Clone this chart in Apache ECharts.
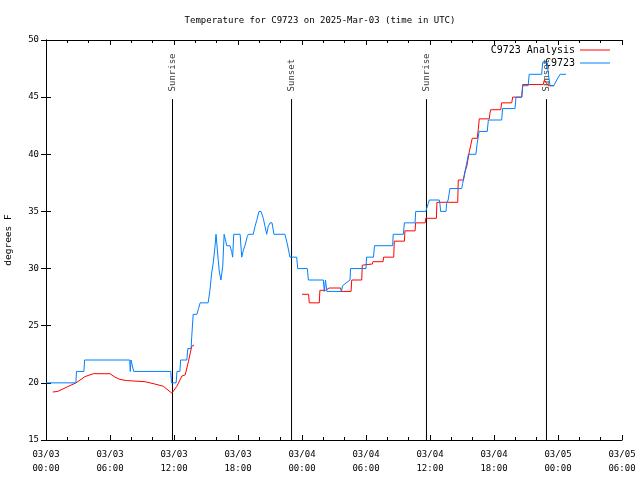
<!DOCTYPE html>
<html>
<head>
<meta charset="utf-8">
<script src="https://cdn.jsdelivr.net/npm/echarts@6/dist/echarts.min.js"></script>
<style>html,body{margin:0;padding:0;background:#fff}#c{width:640px;height:480px}</style>
</head>
<body>
<div id="c"></div>
<script>
// ---- data (hours since 2025-03-03 00:00 UTC, temperature in F) ----
const xTickLabels = ['03/03\n00:00','03/03\n06:00','03/03\n12:00','03/03\n18:00','03/04\n00:00','03/04\n06:00','03/04\n12:00','03/04\n18:00','03/05\n00:00','03/05\n06:00'];

const analysisHours = [0.63,1.1,2.0,2.81,3.66,4.43,6.0,6.47,6.94,7.57,9.28,10.2,11.0,11.8,12.27,12.74,13.05,13.35,13.66,13.87,
  18.9,
  24.0,24.62,24.68,25.62,25.68,26.2,26.55,27.62,27.68,28.6,28.66,29.6,29.65,30.6,30.65,31.6,31.65,32.6,32.65,33.6,33.65,34.6,34.65,35.55,35.6,36.6,36.65,38.6,38.65,39.12,39.19,39.28,39.44,39.68,39.96,40.43,40.53,40.62,41.56,41.62,41.69,42.63,42.72,43.66,43.75,44.6,44.69,46.62,46.72,46.9,47.09,47.63];
const analysisTemps = [19.2,19.25,19.65,20.0,20.55,20.8,20.8,20.5,20.3,20.2,20.1,19.9,19.7,19.1,19.7,20.6,20.7,21.85,23.2,23.3,
  null,
  27.75,27.75,27.0,27.0,28.1,28.1,28.3,28.3,28.0,28.0,29.0,29.0,30.3,30.4,30.6,30.6,31.0,31.0,32.4,32.4,33.3,33.3,34.0,34.0,34.4,34.4,35.8,35.8,37.75,37.75,38.1,38.5,38.9,40.2,41.4,41.4,42.2,43.1,43.1,43.6,43.9,43.9,44.5,44.5,45.0,45.0,46.1,46.1,46.5,46.5,46.0,46.0];

const obsHours = [0,2.8,2.86,3.55,3.62,7.85,7.9,7.97,8.15,8.22,11.7,11.76,12.2,12.28,12.55,12.62,13.2,13.3,13.6,13.66,13.75,13.8,14.15,14.3,14.45,15.2,15.37,15.53,15.68,15.84,15.94,16.15,16.25,16.4,16.57,16.7,16.85,16.94,17.25,17.4,17.5,17.6,18.2,18.35,18.5,18.65,18.87,18.97,19.43,19.6,19.75,19.97,20.16,20.37,20.53,20.69,20.84,21.0,21.19,21.37,22.4,22.56,22.7,22.87,23.5,23.6,24.5,24.6,26.0,26.09,26.15,26.2,26.28,26.33,27.7,27.8,28.5,28.55,30.0,30.05,30.7,30.8,32.5,32.55,33.5,33.6,34.6,34.66,35.6,35.84,35.93,36.87,36.94,37.0,37.5,37.56,37.7,37.87,38.97,39.06,39.2,39.37,39.5,39.6,40.3,40.43,40.6,41.37,41.47,42.72,42.8,43.97,44.06,44.6,44.7,45.2,45.3,46.47,46.56,47.0,47.1,47.25,47.6,47.88,48.2,48.75];
const obsTemps = [20,20,21,21,22,22,21,22,22,21,21,20,20,21,21,22,22,23,23,24,24,26,26,26.5,27,27,28.1,29.6,30.5,31.9,33,30.7,29.7,29,30.2,33,32.4,32,32,31.5,31,33,33,31,31.6,32,32.8,33,33,33.7,34.2,35,35,34.4,33.7,33,33.7,34,34,33,33,32.4,31.8,31,31,30,30,29,29,28,28,29,29,28,28,28.5,29,30,30,31,31,32,32,33,33,34,34,35,35,35.7,36,36,35.6,35,35,35.7,36,37,37,37.45,38,38.9,39.5,40,40,41,42,42,43,43,44,44,45,45,46,46,47,47,48,48,47,46,46,46.5,47,47];

const sunHours = [11.86, 23.02, 35.67, 46.92];
const sunLabels = ['Sunrise', 'Sunset', 'Sunrise', 'Sunset'];
const sunLineTop = 44.83;
const sunLabelBase = 45.5;

// ---- chart ----
const FONT = 'DejaVu Sans Mono';
const pair = (hs, ts) => hs.map((h, i) => [h, ts[i] === null ? '-' : ts[i]]);

const sunLineSeries = sunHours.map(h => ({
  type: 'line', data: [[h, 15], [h, sunLineTop]], symbol: 'none', silent: true,
  lineStyle: { color: '#000', width: 1 }, z: 1
}));

const axisCommon = {
  type: 'value', min: 0, max: 54, interval: 6,
  axisLine: { lineStyle: { color: '#000', width: 1 } },
  axisTick: { inside: true, length: 5, lineStyle: { color: '#000' } },
  minorTick: { show: true, splitNumber: 3, length: 3, lineStyle: { color: '#000' } },
  splitLine: { show: false }
};
const yCommon = {
  type: 'value', min: 15, max: 50, interval: 5,
  axisLine: { show: true, lineStyle: { color: '#000', width: 1 } },
  axisTick: { show: true, inside: true, length: 5, lineStyle: { color: '#000' } },
  splitLine: { show: false }
};

const chart = echarts.init(document.getElementById('c'), null, { renderer: 'canvas' });
chart.setOption({
  animation: false,
  backgroundColor: '#fff',
  title: {
    text: 'Temperature for C9723 on 2025-Mar-03 (time in UTC)',
    left: 'center', top: 11,
    textStyle: { fontFamily: FONT, fontSize: 9, fontWeight: 'normal', color: '#000' }
  },
  legend: {
    data: ['C9723 Analysis', 'C9723'],
    orient: 'vertical', right: 30, top: 45, align: 'right', padding: 0,
    icon: 'rect', itemWidth: 30, itemHeight: 1, itemGap: 3,
    textStyle: { fontFamily: FONT, fontSize: 10, color: '#000' }
  },
  grid: { left: 46, right: 18, top: 40, bottom: 40, containLabel: false, outerBoundsMode: 'none' },
  xAxis: [
    Object.assign({}, axisCommon, {
      position: 'bottom',
      axisLabel: {
        margin: 8, fontFamily: FONT, fontSize: 9, color: '#000', lineHeight: 14,
        formatter: v => xTickLabels[Math.round(v / 6)]
      }
    }),
    Object.assign({}, axisCommon, { position: 'top', axisLabel: { show: false } })
  ],
  yAxis: [
    Object.assign({}, yCommon, {
      position: 'left',
      name: 'degrees F', nameLocation: 'middle', nameRotate: 90, nameGap: 32,
      nameTextStyle: { fontFamily: FONT, fontSize: 9.5, color: '#000' },
      axisLabel: { margin: 7, fontFamily: FONT, fontSize: 9, color: '#000' }
    }),
    Object.assign({}, yCommon, { position: 'right', axisLabel: { show: false } })
  ],
  series: sunLineSeries.concat([
    {
      type: 'scatter', data: sunHours.map((h, i) => [h, sunLabelBase, sunLabels[i]]),
      symbolSize: 0, silent: true,
      label: {
        show: true, position: [0, 0], rotate: 90, align: 'left', verticalAlign: 'middle',
        formatter: p => p.value[2], fontFamily: FONT, fontSize: 9, color: '#000'
      }
    },
    {
      name: 'C9723 Analysis', type: 'line', data: pair(analysisHours, analysisTemps),
      symbol: 'none', connectNulls: false, color: '#ff0000',
      lineStyle: { color: '#ff0000', width: 1 }, z: 3
    },
    {
      name: 'C9723', type: 'line', data: pair(obsHours, obsTemps),
      symbol: 'none', color: '#0080ff',
      lineStyle: { color: '#0080ff', width: 1 }, z: 4
    }
  ])
});
</script>
</body>
</html>
